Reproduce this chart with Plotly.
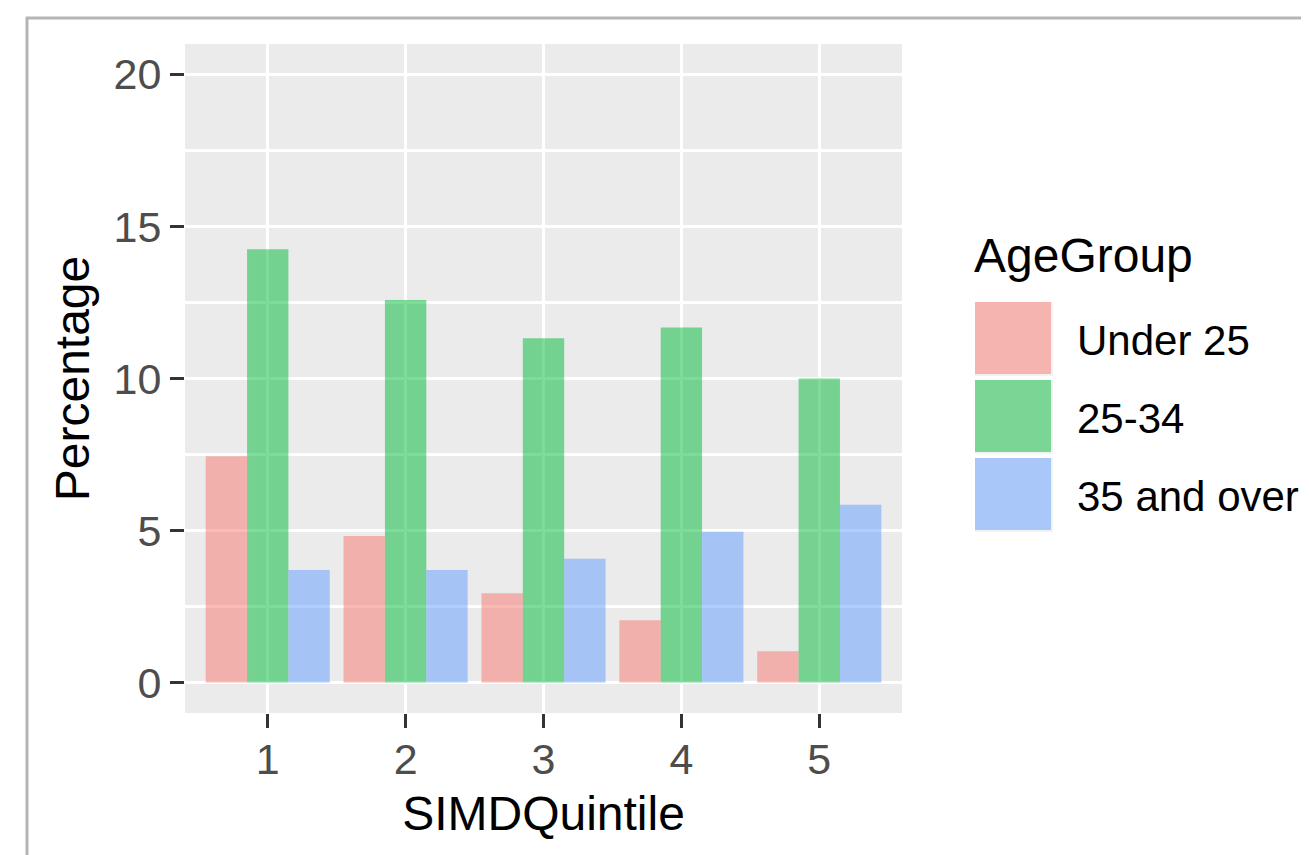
import plotly.graph_objects as go

quintiles = [1, 2, 3, 4, 5]
age_groups = ["Under 25", "25-34", "35 and over"]
under25 = [7.44, 4.82, 2.94, 2.05, 1.03]
age25_34 = [14.25, 12.58, 11.32, 11.68, 10.0]
over35 = [3.70, 3.70, 4.07, 4.96, 5.85]
series = [under25, age25_34, over35]
colors = ["#F8766D", "#00BA38", "#619CFF"]
y_ticks = [0, 5, 10, 15, 20]

OFF = 8  # default page body margin
W, H = 1309 - OFF, 855 - OFF
L, R, T, B = 185 - OFF, 902 - OFF, 44 - OFF, 713 - OFF  # panel box in figure pixels

def px_x(p):  # page pixel -> paper
    return (p - OFF - L) / (R - L)

def px_y(p):
    return (B - (p - OFF)) / (B - T)

FONT = "Liberation Sans, Arial, sans-serif"

fig = go.Figure()
for name, vals, col in zip(age_groups, series, colors):
    fig.add_trace(go.Bar(x=quintiles, y=vals, name=name, marker_color=col,
                         marker_line_width=0, opacity=0.5, showlegend=False))

fig.update_layout(
    width=W, height=H,
    margin=dict(l=L, r=W - R, t=T, b=H - B, pad=0),
    paper_bgcolor="white", plot_bgcolor="#EBEBEB",
    barmode="group", bargap=0.1, bargroupgap=0,
    font=dict(family=FONT),
)
fig.update_xaxes(
    range=[0.4, 5.6], tickvals=quintiles, ticktext=[str(q) for q in quintiles],
    showgrid=True, gridcolor="white", gridwidth=3, zeroline=False,
    ticks="outside", ticklen=14, tickwidth=3, tickcolor="#333333",
    tickfont=dict(size=43, color="#4D4D4D", family=FONT), ticklabelstandoff=-6,
    title=dict(text="SIMDQuintile", font=dict(size=48, color="black", family=FONT), standoff=14),
    showline=False,
)
fig.update_yaxes(
    range=[-1, 21], tickvals=y_ticks, ticktext=[str(t) for t in y_ticks],
    showgrid=True, gridcolor="white", gridwidth=3, zeroline=False,
    minor=dict(dtick=2.5, tick0=0, showgrid=True, gridcolor="white", gridwidth=2.5, ticks=""),
    ticks="outside", ticklen=14, tickwidth=3, tickcolor="#333333",
    tickfont=dict(size=43, color="#4D4D4D", family=FONT),
    title=dict(text="Percentage", font=dict(size=48, color="black", family=FONT), standoff=8),
    showline=False,
)

shapes = [
    dict(type="line", xref="paper", yref="paper", x0=px_x(27), x1=px_x(27),
         y0=px_y(17), y1=px_y(860), line=dict(color="#B5B5B5", width=3)),
    dict(type="line", xref="paper", yref="paper", x0=px_x(26), x1=px_x(1315),
         y0=px_y(18), y1=px_y(18), line=dict(color="#B5B5B5", width=3)),
]
annotations = [
    dict(text="AgeGroup", xref="paper", yref="paper", x=px_x(972), y=px_y(255),
         xanchor="left", yanchor="middle", showarrow=False,
         font=dict(size=48, color="black", family=FONT)),
]
key_tops = [302, 380, 458]
for name, col, top in zip(age_groups, colors, key_tops):
    shapes.append(dict(type="rect", xref="paper", yref="paper",
                       x0=px_x(975), x1=px_x(1053), y0=px_y(top + 74), y1=px_y(top),
                       fillcolor="#F2F2F2", line=dict(width=0), layer="above"))
    shapes.append(dict(type="rect", xref="paper", yref="paper",
                       x0=px_x(975), x1=px_x(1051), y0=px_y(top + 72), y1=px_y(top),
                       fillcolor=col, opacity=0.5, line=dict(width=0), layer="above"))
    annotations.append(dict(text=name, xref="paper", yref="paper", x=px_x(1075),
                            y=px_y(top + 38), xanchor="left", yanchor="middle",
                            showarrow=False, font=dict(size=42, color="black", family=FONT)))
fig.update_layout(shapes=shapes, annotations=annotations)

fig.write_html("out.html")
